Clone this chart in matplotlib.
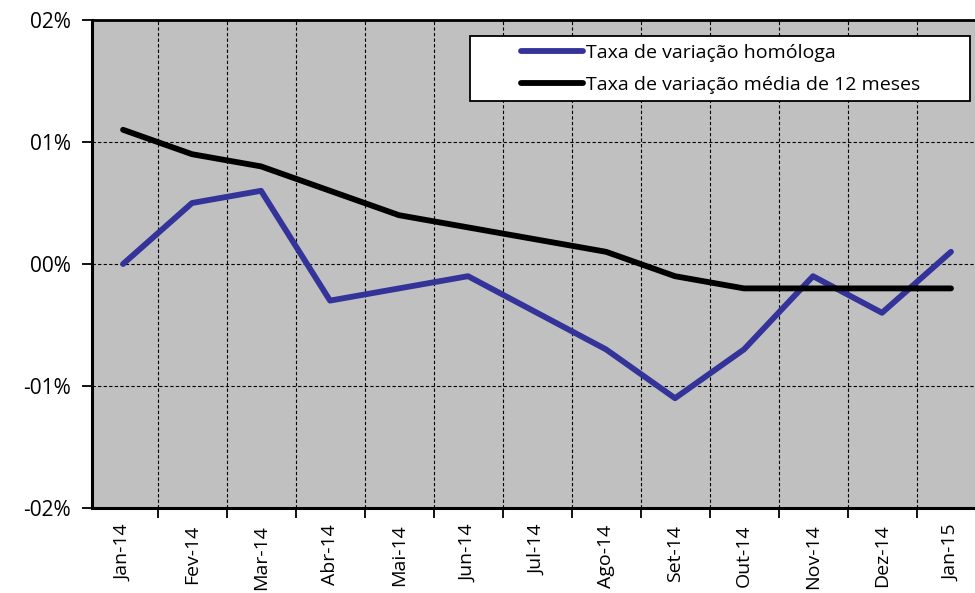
import matplotlib
matplotlib.use("Agg")
import numpy as np
from matplotlib import pyplot as plt
from matplotlib.patches import Rectangle
from matplotlib.ticker import FixedLocator, FuncFormatter

plt.rcParams['font.family'] = ['Open Sans', 'DejaVu Sans']

meses = ['Jan-14', 'Fev-14', 'Mar-14', 'Abr-14', 'Mai-14', 'Jun-14', 'Jul-14',
         'Ago-14', 'Set-14', 'Out-14', 'Nov-14', 'Dez-14', 'Jan-15']
homologa = [0.00, 0.05, 0.06, -0.03, -0.02, -0.01, -0.04, -0.07, -0.11, -0.07, -0.01, -0.04, 0.01]
media_12 = [0.11, 0.09, 0.08, 0.06, 0.04, 0.03, 0.02, 0.01, -0.01, -0.02, -0.02, -0.02, -0.02]
y_ticks = [-0.2, -0.1, 0.0, 0.1, 0.2]
y_labels = ['-02%', '-01%', '00%', '01%', '02%']

W, H = 975, 593
fig = plt.figure(figsize=(9.75, 5.93), dpi=100)
ax = fig.add_axes([92 / W, 1 - 508 / H, (985.5 - 92) / W, 488 / H])
ax.set_facecolor('#c0c0c0')

x = np.arange(len(meses))
ax.plot(x, homologa, color='#333399', lw=4.2, solid_capstyle='round',
        solid_joinstyle='round', label='Taxa de variação homóloga', zorder=3)
ax.plot(x, media_12, color='black', lw=4.2, solid_capstyle='round',
        solid_joinstyle='round', label='Taxa de variação média de 12 meses', zorder=3)

ax.set_xlim(-0.45, 12.5)
ax.set_ylim(-0.2, 0.2)

# ticks at category boundaries, labels at centres
ax.xaxis.set_major_locator(FixedLocator(np.arange(-0.5, 13, 1)))
ax.xaxis.set_major_formatter(FuncFormatter(lambda v, p: ''))
ax.xaxis.set_minor_locator(FixedLocator(x))
ax.set_xticklabels(meses, minor=True, rotation=90, fontsize=14)
ax.tick_params(axis='x', which='minor', length=0, pad=12)
ax.tick_params(axis='x', which='major', length=7, width=1.3, direction='out')

ax.set_yticks(y_ticks)
ax.set_yticklabels(y_labels, fontsize=15)
ax.tick_params(axis='y', length=7, width=1.3, direction='out', pad=8)

ax.grid(True, which='major', color='black', linestyle=(0, (3, 2)), linewidth=0.8)
ax.set_axisbelow(True)

ax.spines['left'].set_linewidth(2.2)
ax.spines['bottom'].set_linewidth(2.2)
ax.spines['top'].set_linewidth(2.0)
ax.spines['right'].set_visible(False)

# legend box (Excel style, wide with left padding)
box = Rectangle((470 / W, 1 - 101 / H), 500 / W, 65 / H, transform=fig.transFigure,
                facecolor='white', edgecolor='black', linewidth=1.3, zorder=4)
fig.patches.append(box)
leg = fig.legend(loc='center left', bbox_to_anchor=(521 / W, 1 - 69 / H),
                 fontsize=14, frameon=False, handlelength=3.2, handletextpad=0.15,
                 borderpad=0, labelspacing=0.75, borderaxespad=0)
leg.set_zorder(5)

fig.savefig('out.png', dpi=100)
